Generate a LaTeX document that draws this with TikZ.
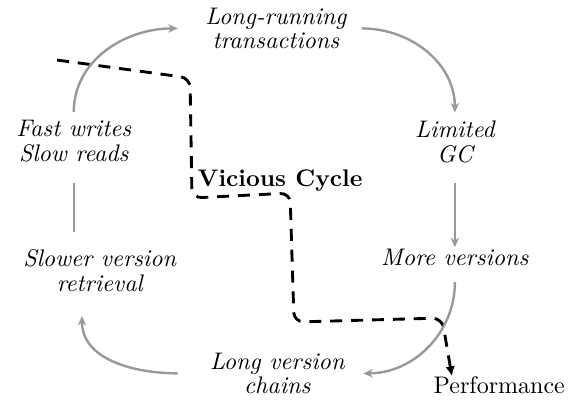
\documentclass[tikz,border=0pt]{standalone}
\usepackage{amsmath}
\usepackage{tikz}
\usetikzlibrary{arrows.meta, positioning}
\definecolor{cyclegray}{rgb}{0.6, 0.6, 0.6}

\begin{document}
\begin{tikzpicture}[
		stage/.style={font=\itshape\fontsize{10}{10.2}\selectfont, align=center},
		cyc/.style={cyclegray, line width=1pt, -{Stealth[length=4pt, width=3.5pt]}},
		vicious/.style={very thick, dash pattern=on 5pt off 3.7pt, rounded corners=4pt, -{Latex[length=4pt, width=4pt]}}
	]
		\useasboundingbox (0,0) rectangle (8.404,5.886);
		
		% the cycle
		\node [stage] (long) at (4.04,5.47) {Long-running\\transactions};
		\node [stage] (limited) at (6.66,3.81) {Limited\\GC};
		\node [stage] (more) at (6.66,2.11) {More versions};
		\node [stage] (chains) at (4.06,0.42) {Long version\\chains};
		\node [stage] (slower) at (1.46,1.92) {Slower version\\retrieval};
		\node [stage] (fast) at (1.08,3.82) {Fast writes\\Slow reads};
		
		\node (vc) at (4.10,3.24) {\textbf{Vicious Cycle}};
		\node (perf) at (7.31,0.24) {Performance};
		
		% cut through the cycle
		\coordinate (cut) at (0.835,5.007);
		\draw [vicious] (cut) -- (2.782,4.744) -- (2.811,2.987) -- (4.246,3.060)
			-- (4.305,1.171) -- (6.471,1.230) -- ([shift={(0.39,-0.11)}]perf.north west);
		
		\draw [cyc] (fast.north) to[out=90, in=180] ([xshift=-0.28cm]long.west);
		\draw [cyc] ([xshift=0.1cm]long.east) to[out=0, in=90] (limited.north);
		\draw [cyc] ([yshift=-0.17cm]limited.south) -- ([yshift=-0.09cm]more.north);
		\draw [cyc] ([yshift=-0.11cm]more.south) to[out=-90, in=0] ([xshift=0.15cm]chains.east);
		\draw [cyc] ([xshift=-0.35cm]chains.west) to[out=180, in=-90] ([shift={(-0.26,-0.23)}]slower.south);
		\draw [cyclegray, line width=1pt] ([yshift=-0.18cm]fast.south) -- ([yshift=0.14cm]fast.south |- slower.north);
%		\draw [cyc] (slower.north) -- (fast.south);
	\end{tikzpicture}
\end{document}
